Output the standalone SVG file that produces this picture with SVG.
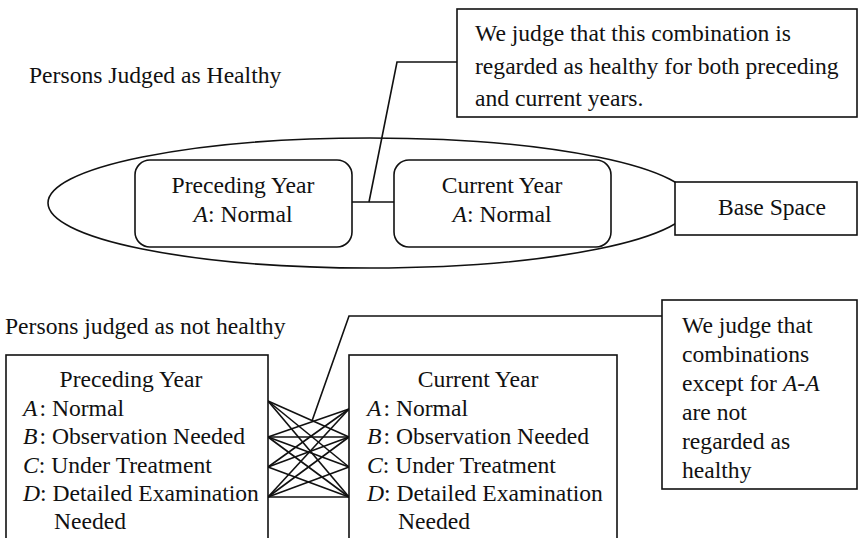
<svg xmlns="http://www.w3.org/2000/svg" width="859" height="538" viewBox="0 0 859 538">
<style>
  text { font-family: "Liberation Serif", "Times New Roman", serif; font-size: 23.6px; fill: #111; }
  .c { text-anchor: middle; }
  .i { font-style: italic; }
  .s { fill: #fff; stroke: #111; stroke-width: 1.6; }
  .ln { fill: none; stroke: #111; stroke-width: 1.6; }
</style>
<rect width="859" height="538" fill="#fff"/>

<text x="29" y="83">Persons Judged as Healthy</text>
<text x="5" y="334">Persons judged as not healthy</text>

<g id="base-ellipse">
  <ellipse class="s" cx="370" cy="203" rx="322" ry="65"/>
</g>

<g id="connectors">
  <polyline class="ln" points="457,62 397,62 369,202"/>
  <line class="ln" x1="352" y1="202" x2="394" y2="202"/>
  <polyline class="ln" points="662,316 349,316 312,421"/>
  <g class="ln">
    <line x1="268" y1="401" x2="349" y2="437"/>
    <line x1="268" y1="401" x2="349" y2="467"/>
    <line x1="268" y1="401" x2="349" y2="497"/>
    <line x1="268" y1="437" x2="349" y2="409"/>
    <line x1="268" y1="437" x2="349" y2="437"/>
    <line x1="268" y1="437" x2="349" y2="467"/>
    <line x1="268" y1="437" x2="349" y2="497"/>
    <line x1="268" y1="467" x2="349" y2="409"/>
    <line x1="268" y1="467" x2="349" y2="437"/>
    <line x1="268" y1="467" x2="349" y2="497"/>
    <line x1="268" y1="497" x2="349" y2="409"/>
    <line x1="268" y1="497" x2="349" y2="437"/>
    <line x1="268" y1="497" x2="349" y2="467"/>
    <line x1="268" y1="497" x2="349" y2="497"/>
  </g>
</g>

<g id="note-healthy">
  <rect class="s" x="457" y="9" width="400" height="108"/>
  <text x="475" y="41">We judge that this combination is</text>
  <text x="475" y="74">regarded as healthy for both preceding</text>
  <text x="475" y="106">and current years.</text>
</g>

<g id="healthy-preceding">
  <rect class="s" x="135" y="160" width="217" height="87" rx="15"/>
  <text class="c" x="243" y="193">Preceding Year</text>
  <text class="c" x="243" y="222"><tspan class="i">A</tspan>: Normal</text>
</g>

<g id="healthy-current">
  <rect class="s" x="394" y="160" width="217" height="87" rx="15"/>
  <text class="c" x="502" y="193">Current Year</text>
  <text class="c" x="502" y="222"><tspan class="i">A</tspan>: Normal</text>
</g>

<g id="base-space">
  <rect class="s" x="675" y="182" width="182" height="53"/>
  <text class="c" x="772" y="215">Base Space</text>
</g>

<g id="unhealthy-preceding">
  <rect class="s" x="6" y="355" width="262" height="200"/>
  <text class="c" x="131" y="387">Preceding Year</text>
  <text x="23" y="416"><tspan class="i">A</tspan><tspan dx="2">: Normal</tspan></text>
  <text x="23" y="444"><tspan class="i">B</tspan><tspan dx="2">: Observation Needed</tspan></text>
  <text x="23" y="473"><tspan class="i">C</tspan>: Under Treatment</text>
  <text x="23" y="501"><tspan class="i">D</tspan>: Detailed Examination</text>
  <text x="54" y="529">Needed</text>
</g>

<g id="unhealthy-current">
  <rect class="s" x="349" y="355" width="268" height="200"/>
  <text class="c" x="478" y="387">Current Year</text>
  <text x="367" y="416"><tspan class="i">A</tspan><tspan dx="2">: Normal</tspan></text>
  <text x="367" y="444"><tspan class="i">B</tspan><tspan dx="2">: Observation Needed</tspan></text>
  <text x="367" y="473"><tspan class="i">C</tspan>: Under Treatment</text>
  <text x="367" y="501"><tspan class="i">D</tspan>: Detailed Examination</text>
  <text x="398" y="529">Needed</text>
</g>

<g id="note-not-healthy">
  <rect class="s" x="662" y="300" width="195" height="189"/>
  <text x="682" y="333">We judge that</text>
  <text x="682" y="362">combinations</text>
  <text x="682" y="391">except for <tspan class="i">A</tspan>-<tspan class="i">A</tspan></text>
  <text x="682" y="420">are not</text>
  <text x="682" y="449">regarded as</text>
  <text x="682" y="478">healthy</text>
</g>
</svg>
